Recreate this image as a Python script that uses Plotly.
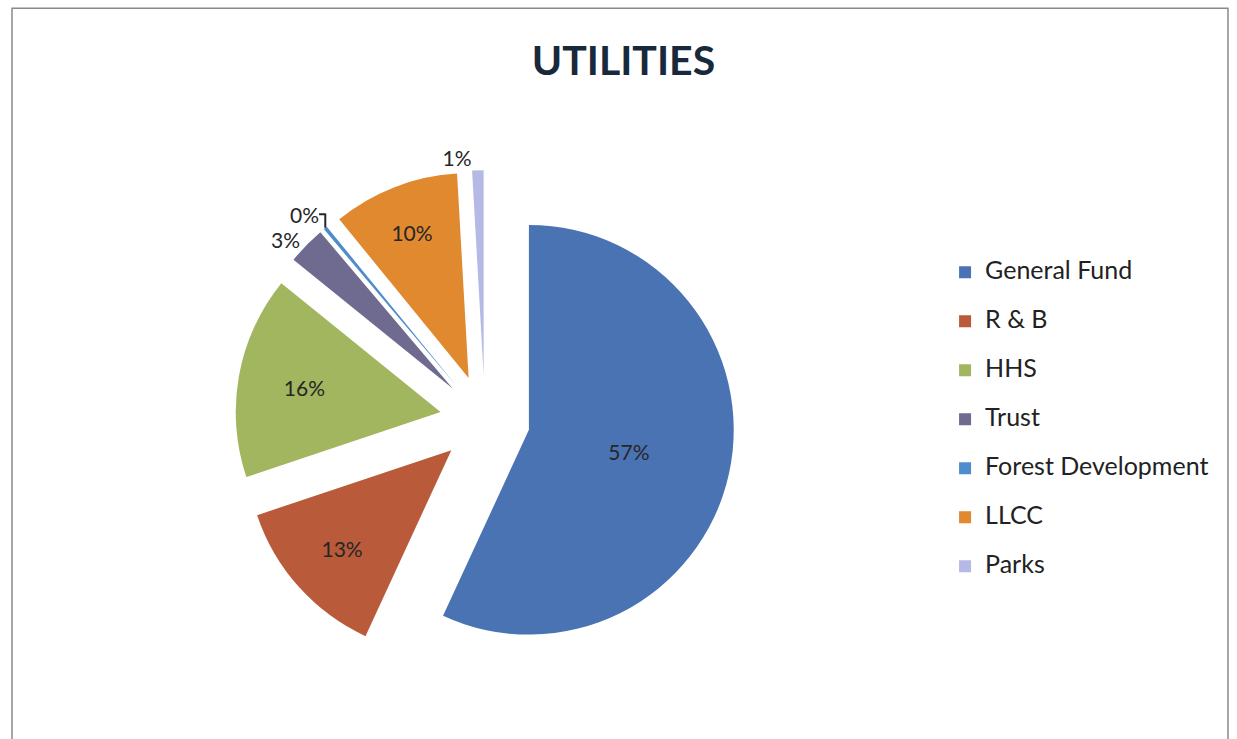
import plotly.graph_objects as go

labels = ["General Fund", "R & B", "HHS", "Trust", "Forest Development", "LLCC", "Parks"]
values = [57, 13, 16, 3, 0.3, 10, 0.9]
colors = ["#4a73b4", "#b95a3b", "#a2b55f", "#6f6a8f", "#4f8ccc", "#e0892f", "#b4b9e6"]
text_pos = ["inside", "inside", "inside", "outside", "outside", "inside", "outside"]

# legend entries get a blank second line so the rows are spaced like the original
legend_labels = [f"<span style='font-size:25px'>{lab}</span><br> " for lab in labels]

fig = go.Figure()
fig.add_trace(go.Pie(
    labels=legend_labels, values=values,
    sort=False, direction="clockwise", rotation=0,
    pull=[0.22] * len(values),
    marker=dict(colors=colors, line=dict(width=0)),
    texttemplate="%{percent:.0%}",
    textposition=text_pos,
    insidetextorientation="horizontal",
    textfont=dict(family="Lato", size=21, color="#262626"),
    hovertemplate=[f"{lab}: %{{value}}<extra></extra>" for lab in labels],
    domain=dict(x=[0.19, 0.594], y=[0.093, 0.77]),
))

fig.update_layout(
    width=1237, height=739,
    margin=dict(l=0, r=0, t=0, b=0),
    paper_bgcolor="white",
    title=dict(text="<b>UTILITIES</b>", x=0.504, y=0.918, xanchor="center", yanchor="middle",
               font=dict(family="Lato", size=41, color="#17293a")),
    legend=dict(x=0.764, y=0.656, xanchor="left", yanchor="top", valign="top",
                font=dict(family="Lato", size=17.7, color="#222222")),
    shapes=[dict(type="rect", xref="paper", yref="paper",
                 x0=0.0097, x1=0.9927, y0=-0.1, y1=0.989,
                 line=dict(color="#8a8a8a", width=1.5))],
)

fig.write_html("out.html", config={"displayModeBar": False},
               post_script="document.body.style.margin='0';")
